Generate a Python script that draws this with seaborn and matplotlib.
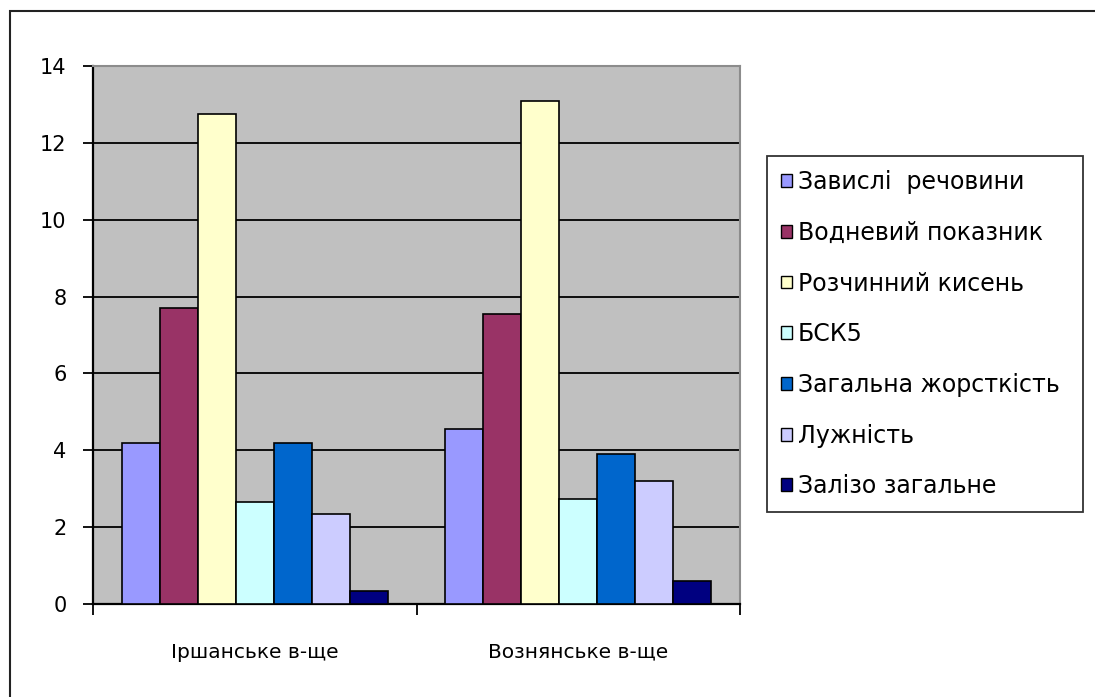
import matplotlib
matplotlib.use("Agg")
import matplotlib.pyplot as plt
from matplotlib.patches import Patch, Rectangle
import pandas as pd
import seaborn as sns

# Sites (water reservoirs) and measured parameters
sites = ["Іршанське в-ще", "Вознянське в-ще"]
params = [
    "Завислі  речовини",
    "Водневий показник",
    "Розчинний кисень",
    "БСК5",
    "Загальна жорсткість",
    "Лужність",
    "Залізо загальне",
]
irshanske = [4.2, 7.7, 12.75, 2.65, 4.2, 2.35, 0.33]
voznianske = [4.55, 7.55, 13.1, 2.72, 3.9, 3.2, 0.6]
colors = ["#9999FF", "#993366", "#FFFFCC", "#CCFFFF", "#0066CC", "#CCCCFF", "#000080"]
yticks = [0, 2, 4, 6, 8, 10, 12, 14]

rows = []
for site, vals in zip(sites, [irshanske, voznianske]):
    for p, v in zip(params, vals):
        rows.append({"site": site, "param": p, "value": v})
df = pd.DataFrame(rows)

plt.rcParams["font.family"] = ["DejaVu Sans"]

W, H = 1095, 697
fig = plt.figure(figsize=(W / 100, H / 100), dpi=100)
fig.patch.set_facecolor("white")

# outer chart border (runs off the right and bottom edges)
fig.patches.append(Rectangle((9.5 / W, -0.2), 1.5, (H - 11.5) / H + 0.2,
                             transform=fig.transFigure, fill=False,
                             edgecolor="#222222", linewidth=1.5))

ax = fig.add_axes([93 / W, (H - 604) / H, (740 - 93) / W, (604 - 66) / H])
ax.set_facecolor("#C0C0C0")

sns.barplot(data=df, x="site", y="value", hue="param", hue_order=params,
            order=sites, palette=colors, width=7 / 8.5, edgecolor="black",
            linewidth=1.2, saturation=1, legend=False, ax=ax, zorder=3)

ax.set_ylim(0, 14)
ax.set_xlim(-0.5, 1.5)
ax.set_yticks(yticks)
ax.set_yticklabels([str(t) for t in yticks])
ax.yaxis.grid(True, color="black", linewidth=1.3, zorder=1)
ax.set_axisbelow(True)

# category boundary ticks and centered labels
ax.set_xticks([-0.5, 0.5, 1.5])
ax.set_xticklabels([])
ax.set_xticks([0, 1], minor=True)
ax.set_xticklabels(sites, minor=True)
ax.tick_params(axis="x", which="major", direction="out", length=8, width=1.3, color="black")
ax.tick_params(axis="x", which="minor", length=0, pad=28, labelsize=14.5)
ax.tick_params(axis="y", direction="out", length=7, width=1.3, pad=12, labelsize=15, color="black")
ax.set_xlabel("")
ax.set_ylabel("")

for s in ["left", "bottom"]:
    ax.spines[s].set_color("black")
    ax.spines[s].set_linewidth(1.6)
for s in ["top", "right"]:
    ax.spines[s].set_color("#8C8C8C")
    ax.spines[s].set_linewidth(1.5)

handles = [Patch(facecolor=c, edgecolor="black", linewidth=1.0) for c in colors]
leg = fig.legend(handles, params,
                 bbox_to_anchor=(767 / W, (H - 513) / H, (1083 - 767) / W, (513 - 156) / H),
                 loc="upper left", mode="expand", ncol=1, fontsize=17,
                 frameon=True, fancybox=False, edgecolor="black",
                 handlelength=0.45, handleheight=0.45, handletextpad=0.25,
                 labelspacing=1.13, borderpad=0.6, borderaxespad=0)
leg.get_frame().set_linewidth(1.3)

fig.savefig("out.png", dpi=100, facecolor="white")
